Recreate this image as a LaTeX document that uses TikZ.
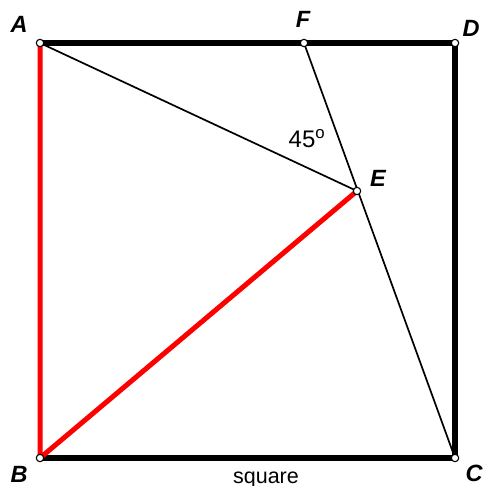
\documentclass[tikz,border=0pt]{standalone}
\usepackage{fontspec}
\setmainfont{Liberation Sans}
\tikzset{
  side/.style={line width=5.5pt},
  redside/.style={red, line width=5pt},
  thin line/.style={line width=1.7pt},
  pt/.style={fill=white, draw=black, line width=1.1pt},
  lbl/.style={font=\fontsize{23.5}{23.5}\selectfont\bfseries\itshape, inner sep=0pt, anchor=base},
  txt/.style={font=\fontsize{21.5}{21.5}\selectfont, inner sep=0pt, anchor=base}
}
\begin{document}
\begin{tikzpicture}[x=1pt, y=-1pt]
\useasboundingbox (0,0) rectangle (482,486);

\coordinate (A) at (40, 43);
\coordinate (F) at (304, 43);
\coordinate (D) at (455, 43);
\coordinate (E) at (357, 191);
\coordinate (B) at (40, 458);
\coordinate (C) at (455, 458);

\draw[side] (A)--(D)--(C)--(B);
\draw[redside, line join=round] (A)--(B)--(E);
\draw[thin line] (A)--(E);
\draw[thin line] (F)--(C);

\foreach \p in {A, B, C, D, E, F}
  \draw[pt] (\p) circle (3.7pt);

\node[lbl] (labA) at (19, 33) {A};
\node[lbl] (labF) at (303, 28) {F};
\node[lbl] (labD) at (471, 37) {D};
\node[lbl] (labE) at (378, 186) {E};
\node[lbl] (labB) at (19, 482) {B};
\node[lbl] (labC) at (474, 481) {C};
\node[txt, font=\fontsize{24}{24}\selectfont] (ang) at (307, 148) {45\textsuperscript{o}};
\node[txt] (cap) at (266, 483) {square};

\end{tikzpicture}
\end{document}
